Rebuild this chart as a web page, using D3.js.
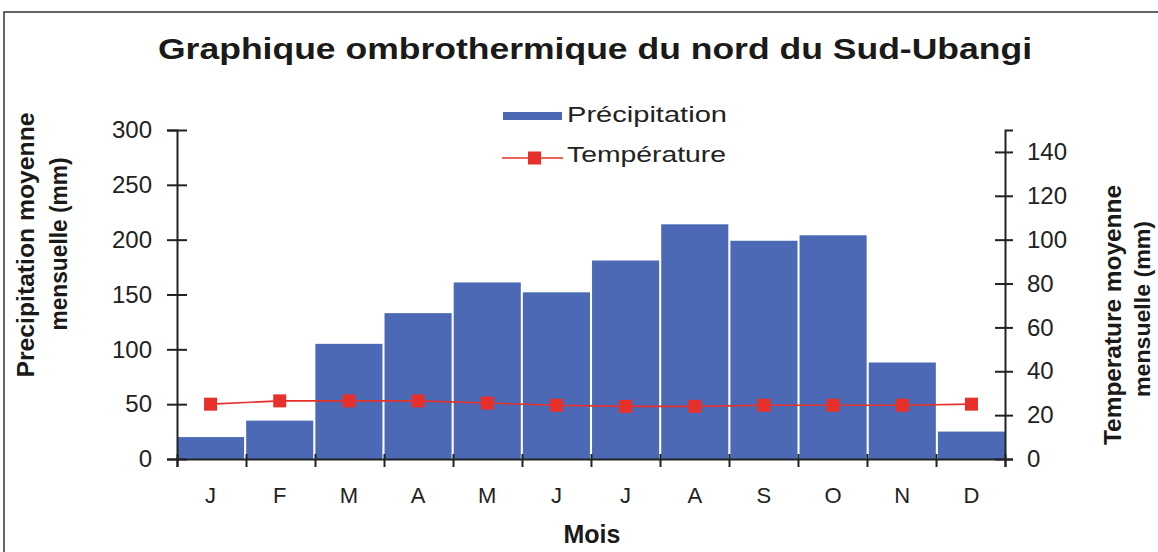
<!DOCTYPE html>
<html>
<head>
<meta charset="utf-8">
<script src="https://cdn.jsdelivr.net/npm/d3@7"></script>
<style>
  body { margin: 0; background: #fff; }
  svg { display: block; font-family: "Liberation Sans", Arial, sans-serif; }
</style>
</head>
<body>
<div id="staticBody"></div>
<script>
var months = ["J", "F", "M", "A", "M", "J", "J", "A", "S", "O", "N", "D"];
var precipitation = [20, 35, 105, 133, 161, 152, 181, 214, 199, 204, 88, 25];
var temperature = [25, 26.5, 26.5, 26.5, 25.5, 24.5, 24, 24, 24.5, 24.5, 24.5, 25];
var precipTicks = [0, 50, 100, 150, 200, 250, 300];
var tempTicks = [0, 20, 40, 60, 80, 100, 120, 140];

var width = 1158, height = 552;
var margin = { top: 130, right: 153, bottom: 93, left: 177 };
var plotW = width - margin.left - margin.right;
var plotH = height - margin.top - margin.bottom;

var barColor = "#4b69b4";
var tempColor = "#e8302a";

var svg = d3.select("#staticBody").append("svg")
  .attr("width", width)
  .attr("height", height);

// frame
svg.append("rect")
  .attr("x", 4).attr("y", 12)
  .attr("width", 1200).attr("height", 600)
  .attr("fill", "none")
  .attr("stroke", "#333")
  .attr("stroke-width", 1.5);

svg.append("text")
  .attr("x", 595).attr("y", 59)
  .attr("text-anchor", "middle")
  .attr("font-size", 30)
  .attr("font-weight", "bold")
  .attr("fill", "#1a1a1a")
  .attr("textLength", 874)
  .attr("lengthAdjust", "spacingAndGlyphs")
  .text("Graphique ombrothermique du nord du Sud-Ubangi");

var g = svg.append("g").attr("transform", "translate(" + margin.left + "," + margin.top + ")");

var x = d3.scaleBand()
  .domain(d3.range(months.length))
  .range([0, plotW])
  .paddingInner(0.03)
  .paddingOuter(0);

var xEdge = d3.scaleLinear().domain([0, months.length]).range([0, plotW]);

var yLeft = d3.scaleLinear().domain([0, 300]).range([plotH, 0]);
var yRight = d3.scaleLinear().domain([0, 150]).range([plotH, 0]);

// bars
g.selectAll(".bar")
  .data(precipitation)
  .enter()
  .append("rect")
  .attr("class", "bar")
  .attr("x", function(d, i) { return x(i); })
  .attr("width", x.bandwidth())
  .attr("y", function(d) { return yLeft(d); })
  .attr("height", function(d) { return plotH - yLeft(d); })
  .attr("fill", barColor);

// temperature line
var tempLine = d3.line()
  .x(function(d, i) { return x(i) + x.bandwidth() / 2; })
  .y(function(d) { return yRight(d); });

g.append("path")
  .datum(temperature)
  .attr("d", tempLine)
  .attr("fill", "none")
  .attr("stroke", tempColor)
  .attr("stroke-width", 1.6);

g.selectAll(".tempPoint")
  .data(temperature)
  .enter()
  .append("rect")
  .attr("class", "tempPoint")
  .attr("x", function(d, i) { return x(i) + x.bandwidth() / 2 - 6.5; })
  .attr("y", function(d) { return yRight(d) - 6.5; })
  .attr("width", 13)
  .attr("height", 13)
  .attr("fill", tempColor);

// left axis
var leftAxis = g.append("g")
  .call(d3.axisLeft(yLeft).tickValues(precipTicks).tickSize(10).tickPadding(15));
leftAxis.selectAll(".tick line").attr("x1", 10);
leftAxis.selectAll("text").attr("font-size", 24).attr("fill", "#222").attr("font-family", null);

// right axis
var rightAxis = g.append("g")
  .attr("transform", "translate(" + plotW + ",0)")
  .call(d3.axisRight(yRight).tickValues(tempTicks).tickSize(8).tickPadding(14));
rightAxis.selectAll(".tick line").attr("x1", -10);
rightAxis.selectAll("text").attr("font-size", 24).attr("fill", "#222").attr("font-family", null);

// bottom axis: ticks at month edges
var bottomAxis = g.append("g")
  .attr("transform", "translate(0," + plotH + ")")
  .call(d3.axisBottom(xEdge).tickValues(d3.range(months.length + 1)).tickSize(8).tickFormat(""));
bottomAxis.selectAll(".tick line").attr("y1", -5);

var monthAxis = g.append("g")
  .attr("transform", "translate(0," + plotH + ")")
  .call(d3.axisBottom(x).tickSize(0).tickPadding(28).tickFormat(function(i) { return months[i]; }));
monthAxis.select(".domain").remove();
monthAxis.selectAll("text").attr("font-size", 22).attr("fill", "#222").attr("font-family", null);

[leftAxis, rightAxis, bottomAxis].forEach(function(a) {
  a.select(".domain").attr("stroke", "#222").attr("stroke-width", 2);
  a.selectAll(".tick line").attr("stroke", "#222").attr("stroke-width", 2);
});

// axis titles
svg.append("text")
  .attr("x", 592).attr("y", 543)
  .attr("text-anchor", "middle")
  .attr("font-size", 25)
  .attr("font-weight", "bold")
  .attr("fill", "#1a1a1a")
  .text("Mois");

function vTitle(tx, ty, len, size, label) {
  svg.append("text")
    .attr("transform", "translate(" + tx + "," + ty + ") rotate(-90)")
    .attr("text-anchor", "middle")
    .attr("font-size", size)
    .attr("font-weight", "bold")
    .attr("fill", "#1a1a1a")
    .attr("textLength", len)
    .attr("lengthAdjust", "spacingAndGlyphs")
    .text(label);
}
vTitle(34, 245, 265, 23, "Precipitation moyenne");
vTitle(67, 244, 173, 23, "mensuelle (mm)");
vTitle(1121, 315, 260, 23, "Temperature moyenne");
vTitle(1150, 309, 176, 22, "mensuelle (mm)");

// legend
var legend = svg.append("g");
legend.append("rect")
  .attr("x", 503).attr("y", 112)
  .attr("width", 59).attr("height", 8)
  .attr("fill", barColor);
legend.append("text")
  .attr("x", 567).attr("y", 122)
  .attr("font-size", 22)
  .attr("fill", "#222")
  .attr("textLength", 160)
  .attr("lengthAdjust", "spacingAndGlyphs")
  .text("Précipitation");
legend.append("line")
  .attr("x1", 502).attr("x2", 563)
  .attr("y1", 158).attr("y2", 158)
  .attr("stroke", tempColor)
  .attr("stroke-width", 1.5);
legend.append("rect")
  .attr("x", 528).attr("y", 151.5)
  .attr("width", 13).attr("height", 13)
  .attr("fill", tempColor);
legend.append("text")
  .attr("x", 567).attr("y", 162)
  .attr("font-size", 22)
  .attr("fill", "#222")
  .attr("textLength", 159)
  .attr("lengthAdjust", "spacingAndGlyphs")
  .text("Température");
</script>
</body>
</html>
